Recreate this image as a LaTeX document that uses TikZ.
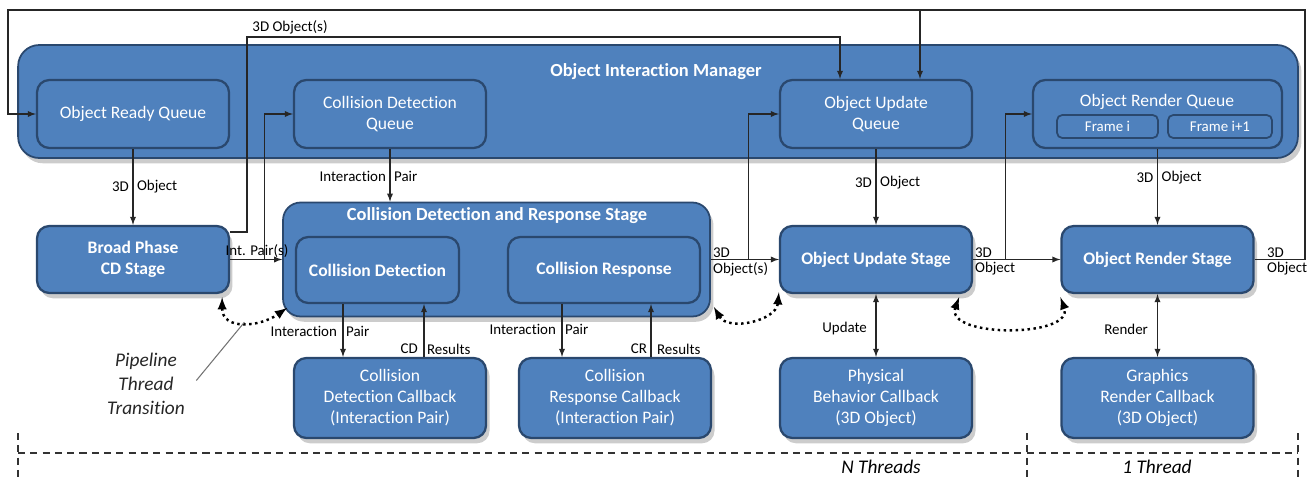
\documentclass[tikz,border=0pt]{standalone}
\usepackage{fontspec}
\setmainfont{Carlito}[Ligatures={TeX,NoCommon}]
\usetikzlibrary{positioning,shadows,calc,arrows}

\definecolor{boxblue}{RGB}{79,129,189}
\definecolor{boxline}{RGB}{42,72,110}

\begin{document}
\begin{tikzpicture}[x=0.02cm, y=-0.02cm, >=latex]

\tikzstyle{skygge}=[drop shadow={opacity=0.4, shadow xshift=2pt, shadow yshift=-3pt}]
\tikzstyle{bigbox}=[rectangle, rounded corners=12pt, draw=boxline, line width=1pt, fill=boxblue, skygge]
\tikzstyle{box}=[rectangle, rounded corners=7pt, draw=boxline, line width=1.3pt, fill=boxblue, text=white, align=center, inner sep=0pt, minimum width=3.84cm, font=\fontsize{10}{12}\selectfont]
\tikzstyle{queue}=[box, minimum height=1.36cm]
\tikzstyle{stage}=[box, skygge, minimum height=1.34cm, font=\fontsize{10}{12}\selectfont\bfseries]
\tikzstyle{callback}=[box, skygge, minimum height=1.6cm]
\tikzstyle{framebox}=[box, rounded corners=3pt, line width=1pt, minimum height=0.46cm, font=\fontsize{8.5}{10}\selectfont]
\tikzstyle{title}=[text=white, font=\fontsize{10.5}{12.5}\selectfont\bfseries]
\tikzstyle{lbl}=[inner sep=1pt, font=\fontsize{8.5}{10}\selectfont]
\tikzstyle{conn}=[->, draw=black!85, line width=0.6pt]
\tikzstyle{dotconn}=[<->, dotted, line width=1.4pt]
\tikzstyle{dashline}=[dashed, dash pattern=on 4pt off 3pt, line width=1.1pt, draw=black!80]

\useasboundingbox (0,0) rectangle (1314,480);

% manager with the queues
\node[bigbox, minimum width=25.6cm, minimum height=2.26cm] (manager) at (658,101.5) {};
\node[title] (managertitle) at (656,72) {Object Interaction Manager};
\node[queue] (readyq) at (133,114) {Object Ready Queue};
\node[queue] (cdq) at (390,114) {Collision Detection\\Queue};
\node[queue] (updq) at (876,114) {Object Update\\Queue};
\node[queue, minimum width=4.98cm] (renderq) at (1157.5,114) {};
\node[text=white, font=\fontsize{10}{12}\selectfont] (renderqtitle) at (1157,102) {Object Render Queue};
\node[framebox, minimum width=2.02cm] (framei) at (1107.5,126.5) {Frame i};
\node[framebox, minimum width=2.08cm] (framej) at (1220,126.5) {Frame i+1};

% stages
\node[stage] (broad) at (133,259.5) {Broad Phase\\CD Stage};
\node[bigbox, rounded corners=10pt, minimum width=8.54cm, minimum height=2.28cm] (cdr) at (496.5,259.5) {};
\node[title] (cdrtitle) at (497,216) {Collision Detection and Response Stage};
\node[box, minimum width=3.26cm, minimum height=1.32cm, font=\fontsize{10}{12}\selectfont\bfseries] (cd) at (377.5,270) {Collision Detection};
\node[box, minimum height=1.32cm, font=\fontsize{10}{12}\selectfont\bfseries] (cr) at (604,270) {Collision Response};
\node[stage] (upd) at (876,259.5) {Object Update Stage};
\node[stage] (rend) at (1157.5,259.5) {Object Render Stage};

% callbacks
\node[callback] (cdcb) at (390,398) {Collision\\Detection Callback\\(Interaction Pair)};
\node[callback] (crcb) at (615,398) {Collision\\Response Callback\\(Interaction Pair)};
\node[callback] (phys) at (876,398) {Physical\\Behavior Callback\\(3D Object)};
\node[callback] (gfx) at (1157.5,398) {Graphics\\Render Callback\\(3D Object)};

% loop at the top
\coordinate (loopright) at (1305,10);
\coordinate (loopleft) at (8,10);
\coordinate (updin) at (920,10);
\draw[conn] (rend.east) -| (loopright) -| (loopleft |- readyq.west) -- (readyq.west);
\draw[conn] (updin) -- (updin |- updq.north);
\node[lbl, anchor=south west] (rendout1) at (1265,259.5) {3D};
\node[lbl, anchor=north west] (rendout2) at (1265,260) {Object};

% broad phase outputs
\coordinate (objsup) at (247,37);
\draw[conn] ([yshift=0.55cm]broad.east) -| (objsup) -| ([xshift=-0.72cm]updq.north);
\node[lbl] (objslbl) at (290,27) {3D Object(s)};
\draw[conn] (broad.east) -- (cdr.west);
\draw[conn] ([xshift=0.68cm]broad.east) |- (cdq.west);
\node[lbl] (intpair) at (257,251) {Int. Pair(s)};

\draw[conn] (cdq.south) -- (cdq.south |- cdr.north);
\node[lbl, anchor=east] (ip1a) at (388,176) {Interaction};
\node[lbl, anchor=west] (ip1b) at (392,176) {Pair};

\draw[conn] (cdr.east) -- (upd.west);
\draw[conn] ([xshift=0.76cm]cdr.east) |- (updq.west);
\node[lbl, anchor=south west] (cdrout1) at (711,259.5) {3D};
\node[lbl, anchor=north west] (cdrout2) at (711,260) {Object(s)};

\draw[conn] (upd.east) -- (rend.west);
\draw[conn] ([xshift=0.64cm]upd.east) |- (renderq.west);
\node[lbl, anchor=south west] (updout1) at (973,259.5) {3D};
\node[lbl, anchor=north west] (updout2) at (973,260) {Object};

% queues down to stages
\draw[conn] (readyq.south) -- (broad.north);
\node[lbl, anchor=east] (rq1) at (131,187) {3D};
\node[lbl, anchor=west] (rq2) at (135,187) {Object};
\draw[conn] (updq.south) -- (upd.north);
\node[lbl, anchor=east] (uq1) at (874,183) {3D};
\node[lbl, anchor=west] (uq2) at (878,183) {Object};
\draw[conn] (renderq.south) -- (rend.north);
\node[lbl, anchor=east] (gq1) at (1155.5,178) {3D};
\node[lbl, anchor=west] (gq2) at (1159.5,178) {Object};

% stages to callbacks
\coordinate (cdout) at ($(cd.south)+(-34.5,0)$);
\coordinate (cdback) at ($(cdcb.north)+(34,0)$);
\draw[conn] (cdout) -- (cdout |- cdcb.north);
\draw[conn] (cdback) -- (cdback |- cd.south);
\node[lbl, anchor=east] (ip2a) at (339,331) {Interaction};
\node[lbl, anchor=west] (ip2b) at (344,331) {Pair};
\node[lbl, anchor=east] (cdres1) at (420,349) {CD};
\node[lbl, anchor=west] (cdres2) at (425,349) {Results};

\coordinate (crout) at ($(cr.south)+(-42,0)$);
\coordinate (crback) at ($(crcb.north)+(36,0)$);
\draw[conn] (crout) -- (crout |- crcb.north);
\draw[conn] (crback) -- (crback |- cr.south);
\node[lbl, anchor=east] (ip3a) at (558,329) {Interaction};
\node[lbl, anchor=west] (ip3b) at (563,329) {Pair};
\node[lbl, anchor=east] (crres1) at (649,349) {CR};
\node[lbl, anchor=west] (crres2) at (655,349) {Results};

\draw[conn, <->] (upd.south) -- (phys.north);
\node[lbl, anchor=east] (updlbl) at (869,329) {Update};
\draw[conn, <->] (rend.south) -- (gfx.north);
\node[lbl, anchor=east] (rendlbl) at (1150,329) {Render};

% thread transitions
\draw[dotconn] ([xshift=-0.16cm,yshift=-0.06cm]broad.south east) to[out=-90, in=-145, looseness=1.3] coordinate[pos=0.5] (dip) ([xshift=0.1cm,yshift=0.19cm]cdr.south west);
\draw[dotconn] ([xshift=0.06cm,yshift=0.21cm]cdr.south east) to[out=-60, in=-95, looseness=1.1] ([yshift=0.04cm]upd.south west);
\draw[dotconn] ([xshift=-0.28cm,yshift=-0.06cm]upd.south east) to[out=-110, in=-70, looseness=1.1] ([yshift=-0.06cm]rend.south west);

\node[align=center, text=black!85, font=\fontsize{11}{13.5}\selectfont\itshape] (ptt) at (146,384) {Pipeline\\Thread\\Transition};
\draw[black!55, line width=0.6pt] ([xshift=3pt,yshift=2pt]ptt.east) -- (dip);

% thread areas
\draw[dashline] (18,453) -- (1298,453);
\foreach \x in {18,1027,1298}
  \draw[dashline] (\x,433) -- (\x,480);
\node[font=\fontsize{11}{13}\selectfont\itshape] (nthreads) at (881,467) {N Threads};
\node[font=\fontsize{11}{13}\selectfont\itshape] (onethread) at (1157,467) {1 Thread};

\end{tikzpicture}
\end{document}
